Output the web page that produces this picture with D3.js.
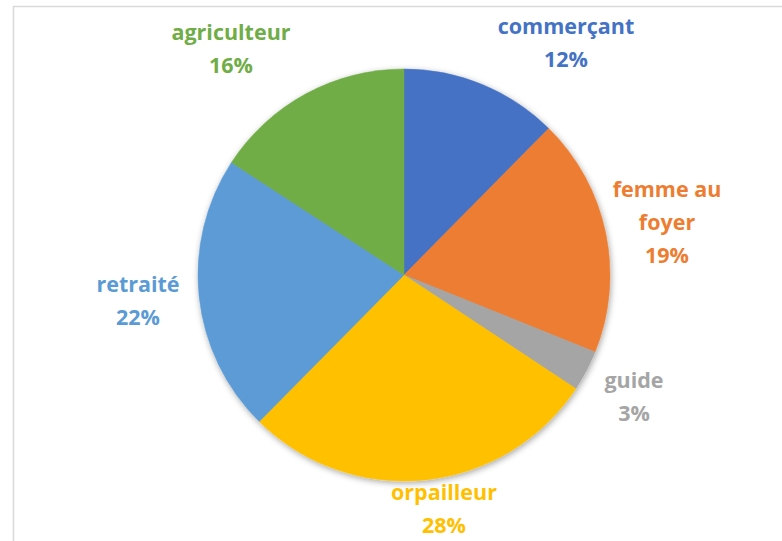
<!DOCTYPE html>
<html lang="fr">
<head>
<meta charset="UTF-8">
<title>Profession</title>
<script src="https://d3js.org/d3.v7.min.js"></script>
<style>
  body { margin: 0; background: #fff; }
  svg { display: block; }
  .lbl { font-family: "Open Sans", Lato, sans-serif; font-weight: bold; font-size: 21.5px; }
</style>
</head>
<body>
<svg id="chart" width="782" height="541"></svg>
<script>
// parts (%)
var categories = ["commerçant", "femme au foyer", "guide", "orpailleur", "retraité", "agriculteur"];
var values = [12.4, 18.7, 3.2, 28.1, 21.8, 15.8];
var colors = ["#4472C4", "#ED7D31", "#A5A5A5", "#FFC000", "#5B9BD5", "#70AD47"];
// lignes du nom dans l'etiquette
var labelLines = [["commerçant"], ["femme au", "foyer"], ["guide"], ["orpailleur"], ["retraité"], ["agriculteur"]];
// position des etiquettes (centre, ligne de base du haut)
var labelPos = [[566, 34], [667, 197], [634, 388], [444, 500], [138, 292], [231, 40]];

var svg = d3.select("#chart"),
    cx = 404, cy = 275, r = 206, lineH = 33;

// cadre gris
svg.append("rect")
    .attr("x", 13.5).attr("y", 6.5)
    .attr("width", 800).attr("height", 600)
    .attr("fill", "none").attr("stroke", "#d9d9d9").attr("stroke-width", 1.5);

var defs = svg.append("defs");
var f = defs.append("filter").attr("id", "ombre")
    .attr("x", "-10%").attr("y", "-10%").attr("width", "120%").attr("height", "120%");
f.append("feDropShadow").attr("dx", 1).attr("dy", 2).attr("stdDeviation", 3)
    .attr("flood-color", "#000").attr("flood-opacity", 0.35);

var pie = d3.pie().sort(null).value(function(d) { return d; });
var arc = d3.arc().innerRadius(0).outerRadius(r);
var arcs = pie(values);

var g = svg.append("g").attr("transform", "translate(" + cx + "," + cy + ")");
g.append("g").attr("filter", "url(#ombre)")
  .selectAll("path")
  .data(arcs)
  .enter().append("path")
    .attr("d", arc)
    .attr("fill", function(d, i) { return colors[i]; })
    .attr("stroke", function(d, i) { return colors[i]; })
    .attr("stroke-width", 0.5);

// etiquettes
var lbl = svg.append("g").selectAll("text")
  .data(arcs)
  .enter().append("text")
    .attr("class", "lbl")
    .attr("text-anchor", "middle")
    .attr("fill", function(d, i) { return colors[i]; })
    .attr("x", function(d, i) { return labelPos[i][0]; })
    .attr("y", function(d, i) { return labelPos[i][1]; });

lbl.each(function(d, i) {
  var t = d3.select(this);
  var lines = labelLines[i].concat([Math.round(values[i]) + "%"]);
  lines.forEach(function(s, k) {
    t.append("tspan")
      .attr("x", labelPos[i][0])
      .attr("dy", k == 0 ? 0 : lineH)
      .text(s);
  });
});
</script>
</body>
</html>
